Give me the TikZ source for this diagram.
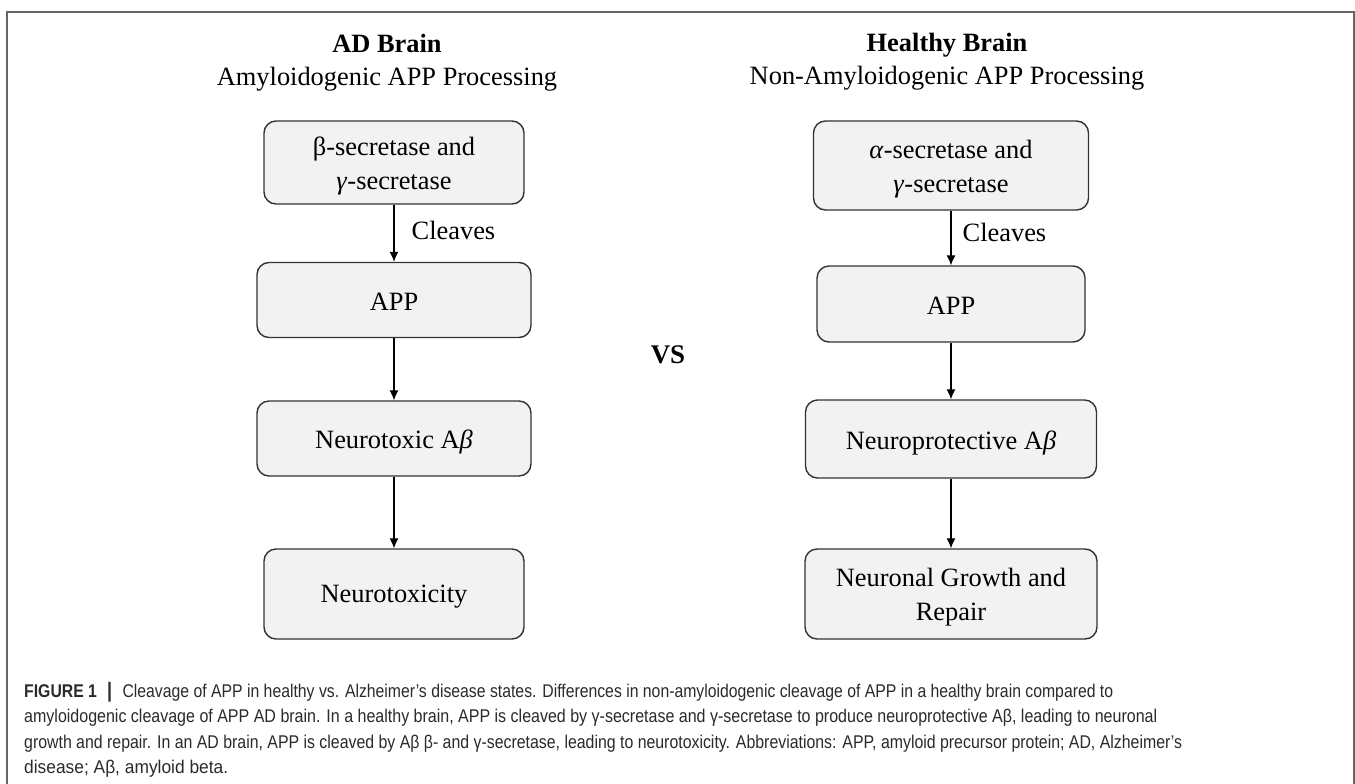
\documentclass[tikz,border=0pt]{standalone}
\usepackage{fontspec}
\usepackage{graphicx}
\setmainfont{Liberation Serif}
\newfontfamily\capfont{Liberation Sans}
\usetikzlibrary{arrows.meta}
\definecolor{boxfill}{HTML}{F2F2F2}
\definecolor{boxline}{HTML}{333333}
\definecolor{framecol}{HTML}{666666}
\definecolor{captext}{HTML}{2A2A2A}
\newcommand{\lowtxt}[2][3.5bp]{\raisebox{-#1}[\height][\depth]{\begin{tabular}{@{}c@{}}#2\end{tabular}}}
\tikzset{
  flowbox/.style={draw=boxline, fill=boxfill, rounded corners=12bp, line width=1.4bp,
    align=center, inner sep=0pt, font=\fontsize{26.5}{34}\selectfont},
  flowarrow/.style={draw=black, line width=1.3bp, -{Latex[length=10bp,width=9bp]}},
  headtxt/.style={align=center, inner sep=0pt, font=\fontsize{26.5}{33}\selectfont},
  lbl/.style={anchor=west, inner sep=0pt, font=\fontsize{26.5}{33}\selectfont},
  capline/.style={anchor=base west, inner sep=0pt, text=captext, font=\capfont\fontsize{18.5}{22}\selectfont}
}
\begin{document}
\begin{tikzpicture}[x=1bp,y=-1bp]
\useasboundingbox (0,0) rectangle (1355,783);
\draw[framecol, line width=1.5bp] (7,790) -- (7,12) -- (1354,12) -- (1354,790);

% headings
\node[headtxt] (hL) at (387,62.5) {\textbf{AD Brain}\\Amyloidogenic APP Processing};
\node[headtxt] (hR) at (947,62) {\textbf{Healthy Brain}\\Non-Amyloidogenic APP Processing};
\node[inner sep=0pt, font=\fontsize{27}{33}\selectfont\bfseries] (vs) at (668,355) {VS};

% left column
\node[flowbox, minimum width=260bp, minimum height=83bp] (L1) at (394,162.5) {\lowtxt[3bp]{β-secretase and\\\textit{γ}-secretase}};
\node[flowbox, minimum width=274bp, minimum height=75bp] (L2) at (394,300) {\lowtxt[3.5bp]{APP}};
\node[flowbox, minimum width=274bp, minimum height=75bp] (L3) at (394,438.5) {\lowtxt{Neurotoxic A\textit{β}}};
\node[flowbox, minimum width=260bp, minimum height=90bp] (L4) at (394,594) {\lowtxt[2bp]{Neurotoxicity}};

% right column
\node[flowbox, minimum width=275bp, minimum height=89bp] (R1) at (951,165.5) {\lowtxt[3bp]{\textit{α}-secretase and\\\textit{γ}-secretase}};
\node[flowbox, minimum width=268bp, minimum height=76bp] (R2) at (951,304) {\lowtxt[3.5bp]{APP}};
\node[flowbox, minimum width=291bp, minimum height=78bp] (R3) at (951,439) {\lowtxt{Neuroprotective A\textit{β}}};
\node[flowbox, minimum width=292bp, minimum height=90bp] (R4) at (951,594) {\lowtxt[3bp]{Neuronal Growth and\\Repair}};

% connectors
\draw[flowarrow] (L1.south) -- node[lbl, xshift=17bp, yshift=3bp] {Cleaves} (L2.north);
\draw[flowarrow] (L2.south) -- (L3.north);
\draw[flowarrow] (L3.south) -- (L4.north);
\draw[flowarrow] (R1.south) -- node[lbl, xshift=11bp, yshift=5.5bp] {Cleaves} (R2.north);
\draw[flowarrow] (R2.south) -- (R3.north);
\draw[flowarrow] (R3.south) -- (R4.north);

% caption
\node[capline] (c1) at (24,697) {\resizebox{1089bp}{\height}{\textbf{FIGURE 1}\hspace{0.65em}{\fontsize{21}{22}\selectfont\textbf{|}}\hspace{0.65em}Cleavage of APP in healthy vs. Alzheimer’s disease states. Differences in non-amyloidogenic cleavage of APP in a healthy brain compared to}};
\node[capline] (c2) at (24,722.5) {\resizebox{1133bp}{\height}{amyloidogenic cleavage of APP AD brain. In a healthy brain, APP is cleaved by γ-secretase and γ-secretase to produce neuroprotective Aβ, leading to neuronal}};
\node[capline] (c3) at (24,748) {\resizebox{1158bp}{\height}{growth and repair. In an AD brain, APP is cleaved by Aβ β- and γ-secretase, leading to neurotoxicity. Abbreviations: APP, amyloid precursor protein; AD, Alzheimer’s}};
\node[capline] (c4) at (24,773.5) {\resizebox{204bp}{\height}{disease; Aβ, amyloid beta.}};
\end{tikzpicture}
\end{document}
